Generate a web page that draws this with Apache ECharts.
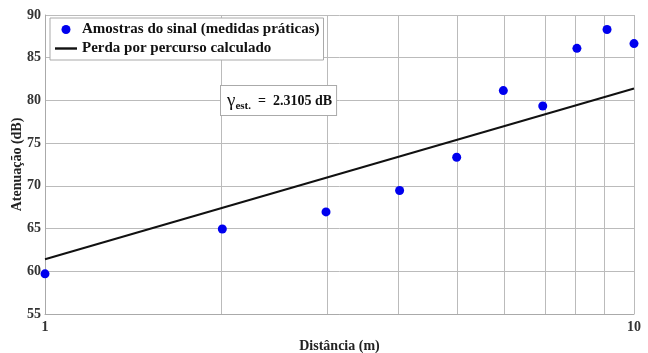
<!DOCTYPE html>
<html><head><meta charset="utf-8">
<script src="https://cdn.jsdelivr.net/npm/echarts@6/dist/echarts.min.js"></script>
<style>html,body{margin:0;padding:0;background:#fff}#c{width:648px;height:353px}</style>
</head><body><div id="c"></div>
<script>
const distances = [1,2,3,4,5,6,7,8,9,10];
const samples = [59.7,64.95,66.95,69.45,73.35,81.15,79.35,86.1,88.3,86.65];
const fitDistances = [1,10];
const fitValues = [61.4,81.4];
const xGridValues = [2,3,4,5,6,7,8,9];
const xTickLabels = {0:'1',1:'10'};
const gammaText = '2.3105 dB';

const FONT = '"Liberation Serif", "Times New Roman", serif';
const lg = Math.log10;
const chart = echarts.init(document.getElementById('c'), null, {renderer:'canvas'});
chart.setOption({
  animation:false,
  grid:{left:45,right:14,top:15,bottom:39,show:false,outerBoundsMode:'none',containLabel:false},
  xAxis:{type:'value',min:0,max:1,interval:1,
    name:'Distância (m)',nameLocation:'middle',nameGap:25,nameMoveOverlap:false,
    nameTextStyle:{fontFamily:FONT,fontWeight:'bold',fontSize:14,color:'#222'},
    axisLine:{show:true,onZero:false,lineStyle:{color:'#aaa',width:1}},
    axisTick:{show:false},
    axisLabel:{fontFamily:FONT,fontWeight:'bold',fontSize:14,color:'#333',margin:6,
      formatter:v=>xTickLabels[Math.round(v)]||''},
    splitLine:{show:true,lineStyle:{color:'#bbb',width:1}}
  },
  yAxis:{type:'value',min:55,max:90,interval:5,
    name:'Atenuação (dB)',nameLocation:'middle',nameGap:21,nameMoveOverlap:false,
    nameTextStyle:{fontFamily:FONT,fontWeight:'bold',fontSize:14,color:'#222'},
    axisLine:{show:true,lineStyle:{color:'#aaa',width:1}},
    axisTick:{show:false},
    axisLabel:{fontFamily:FONT,fontWeight:'bold',fontSize:14,color:'#333',margin:4},
    splitLine:{show:true,lineStyle:{color:'#bbb',width:1}}
  },
  legend:{orient:'vertical',left:50,top:18,padding:[4,4,4,5],itemGap:4,
    backgroundColor:'#fff',borderColor:'#aaa',borderWidth:1,borderRadius:0,
    itemWidth:22,itemHeight:9,
    textStyle:{fontFamily:FONT,fontWeight:'bold',fontSize:15,color:'#111'},
    data:[{name:'Amostras do sinal (medidas práticas)',icon:'circle'},
          {name:'Perda por percurso calculado',icon:'path://M0,0h22v2.4h-22z'}]},
  series:[
    {name:'Perda por percurso calculado',type:'line',z:3,
     data:fitDistances.map((d,i)=>[lg(d),fitValues[i]]),
     showSymbol:false,symbol:'none',lineStyle:{color:'#111',width:2},itemStyle:{color:'#111'},
     markLine:{silent:true,symbol:'none',label:{show:false},
       lineStyle:{color:'#bbb',width:1,type:'solid'},z:1,
       data:xGridValues.map(v=>({xAxis:lg(v)}))}},
    {name:'Amostras do sinal (medidas práticas)',type:'scatter',z:4,clip:false,
     symbolSize:9,itemStyle:{color:'#0000ee',opacity:1},
     data:distances.map((d,i)=>[lg(d),samples[i]])}
  ],
  graphic:[{type:'text',left:220,top:85,z:10,
    style:{text:'{g|γ}{s|est.}{t|  =  '+gammaText+'}',
      backgroundColor:'#fff',borderColor:'#aaa',borderWidth:1,padding:[4,4,3,6],
      rich:{g:{fontFamily:FONT,fontSize:19,fill:'#111',lineHeight:22},
            s:{fontFamily:FONT,fontSize:11,fontWeight:'bold',fill:'#111',lineHeight:22,verticalAlign:'bottom',padding:[8,0,0,0]},
            t:{fontFamily:FONT,fontSize:14,fontWeight:'bold',fill:'#111',lineHeight:22}}}}]
});
</script></body></html>
